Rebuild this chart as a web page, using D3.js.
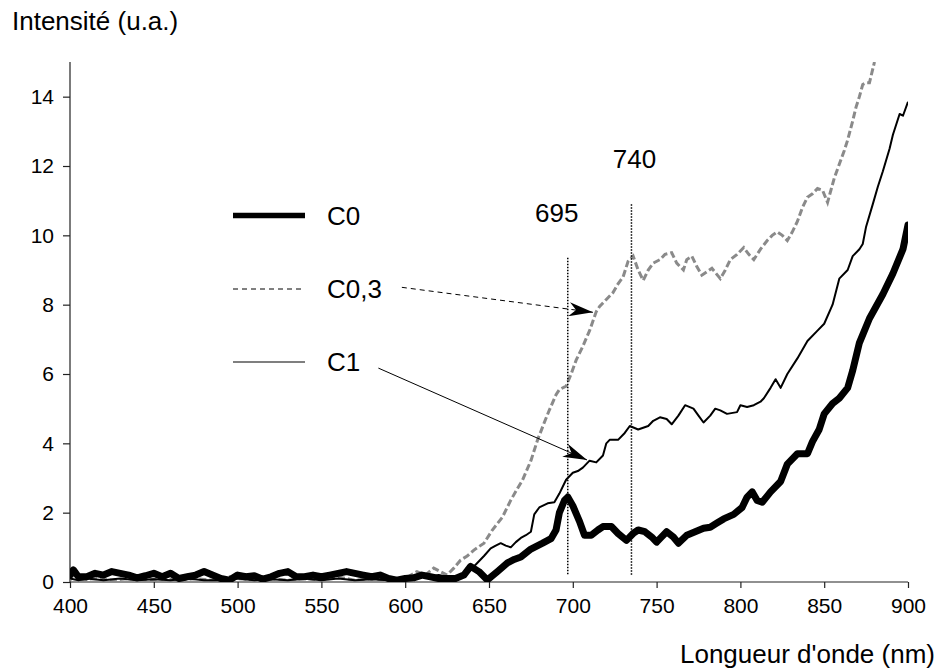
<!DOCTYPE html>
<html>
<head>
<meta charset="utf-8">
<script src="https://cdn.jsdelivr.net/npm/d3@7"></script>
<style>
  body { margin: 0; background: #fff; }
  text { font-family: "Liberation Sans", Arial, sans-serif; fill: #000; }
</style>
</head>
<body>
<div id="chart"></div>
<script>
// spectra: [wavelength nm, intensity]
const c0 = [[400,0.2],[402,0.35],[405,0.15],[410,0.15],[415,0.25],[420,0.2],[425,0.3],[430,0.25],[435,0.2],[440,0.12],[445,0.18],[450,0.25],[455,0.15],[460,0.25],[465,0.1],[470,0.15],[475,0.2],[480,0.3],[485,0.2],[490,0.1],[495,0.05],[500,0.2],[505,0.15],[510,0.18],[515,0.08],[520,0.15],[525,0.25],[530,0.3],[535,0.15],[540,0.15],[545,0.2],[550,0.15],[555,0.2],[560,0.25],[565,0.3],[570,0.25],[575,0.2],[580,0.15],[585,0.2],[590,0.1],[595,0.05],[600,0.1],[605,0.12],[610,0.2],[615,0.15],[620,0.1],[625,0.1],[630,0.1],[635,0.2],[639,0.45],[644,0.3],[649,0.06],[655,0.3],[661,0.55],[665,0.65],[669,0.72],[675,0.95],[682,1.12],[687,1.25],[690,1.5],[692,2.0],[695,2.35],[697,2.45],[700,2.2],[704,1.75],[707,1.35],[711,1.35],[715,1.5],[718,1.6],[723,1.6],[727,1.4],[732,1.2],[736,1.4],[739,1.5],[743,1.45],[747,1.3],[750,1.15],[753,1.3],[756,1.45],[760,1.3],[763,1.12],[768,1.35],[773,1.45],[778,1.55],[782,1.58],[786,1.7],[790,1.82],[796,1.95],[801,2.15],[804,2.45],[807,2.6],[810,2.35],[813,2.3],[818,2.6],[824,2.9],[828,3.4],[834,3.7],[840,3.7],[843,4.05],[847,4.4],[850,4.85],[855,5.15],[859,5.3],[864,5.6],[867,6.1],[871,6.9],[877,7.6],[885,8.3],[891,8.9],[897,9.6],[900,10.3]];

const c03 = [[400,0.05],[403,0.3],[406,0.05],[415,0.1],[425,0.05],[435,0.1],[445,0.05],[455,0.1],[465,0.05],[475,0.1],[485,0.05],[495,0.15],[500,0.1],[510,0.05],[520,0.1],[530,0.05],[540,0.1],[550,0.05],[560,0.15],[570,0.05],[580,0.1],[590,0.05],[600,0.1],[607,0.3],[612,0.2],[617,0.4],[621,0.3],[625,0.2],[629,0.4],[633,0.63],[637,0.75],[641,0.92],[647,1.12],[652,1.5],[658,1.87],[663,2.36],[667,2.7],[670,2.94],[675,3.5],[679,4.1],[683,4.6],[686,4.96],[690,5.4],[692,5.55],[696,5.65],[699,6.0],[702,6.4],[706,6.8],[710,7.25],[714,7.8],[716,7.95],[720,8.15],[724,8.35],[727,8.6],[730,8.8],[733,9.25],[736,9.4],[739,9.0],[742,8.7],[745,9.0],[748,9.2],[752,9.3],[755,9.45],[759,9.5],[762,9.2],[766,9.0],[768,9.3],[771,9.4],[774,9.1],[777,8.85],[780,8.95],[783,9.05],[788,8.75],[791,9.0],[794,9.3],[798,9.45],[802,9.65],[805,9.45],[808,9.3],[812,9.6],[816,9.85],[819,10.0],[822,10.1],[825,10.0],[828,9.85],[831,10.1],[834,10.4],[837,10.8],[840,11.1],[843,11.2],[846,11.35],[849,11.3],[852,10.95],[854,11.3],[856,11.65],[859,12.05],[862,12.45],[864,12.75],[867,13.3],[869,13.7],[871,14.0],[873,14.35],[875,14.4],[877,14.4],[880,15.0]];

const c1 = [[400,0.1],[405,0.05],[410,0.1],[420,0.05],[430,0.1],[440,0.05],[450,0.08],[460,0.05],[470,0.1],[480,0.05],[490,0.05],[500,0.1],[510,0.05],[520,0.08],[530,0.05],[540,0.1],[550,0.05],[560,0.1],[570,0.05],[580,0.08],[590,0.05],[600,0.05],[605,0.1],[610,0.2],[615,0.15],[620,0.2],[625,0.15],[630,0.1],[635,0.15],[639,0.35],[643,0.55],[647,0.75],[651,0.97],[654,1.05],[657,1.12],[660,1.05],[663,1.0],[666,1.15],[669,1.27],[672,1.35],[675,1.45],[677,1.95],[680,2.15],[685,2.27],[689,2.3],[692,2.55],[696,2.95],[700,3.15],[703,3.2],[706,3.3],[710,3.5],[714,3.45],[718,3.65],[720,4.0],[722,4.1],[727,4.1],[731,4.3],[734,4.5],[739,4.4],[745,4.5],[748,4.65],[752,4.75],[756,4.7],[759,4.55],[763,4.8],[767,5.1],[772,5.0],[775,4.8],[778,4.6],[782,4.8],[785,5.0],[788,4.95],[792,4.85],[798,4.9],[800,5.1],[804,5.05],[808,5.1],[812,5.2],[814,5.3],[818,5.6],[821,5.85],[824,5.6],[828,6.0],[834,6.45],[840,6.95],[846,7.25],[850,7.45],[855,8.0],[859,8.75],[864,9.0],[867,9.4],[871,9.6],[873,9.75],[875,10.25],[879,10.9],[882,11.4],[885,11.85],[889,12.5],[891,12.9],[895,13.5],[897,13.45],[900,13.85]];

const xTicks = [400, 450, 500, 550, 600, 650, 700, 750, 800, 850, 900];
const yTicks = [0, 2, 4, 6, 8, 10, 12, 14];

// vertical markers: label text, wavelength where the dotted line stands, top value
const markers = [
  { label: "695", nm: 697, top: 9.35, dx: -11 },
  { label: "740", nm: 735, top: 10.9, dx: 3 }
];

const width = 940, height = 669;
const margin = { top: 62, right: 32, bottom: 87, left: 70 };

const svg = d3.select("#chart").append("svg")
    .attr("width", width)
    .attr("height", height);

const x = d3.scaleLinear().domain([400, 900]).range([margin.left, width - margin.right]);
const y = d3.scaleLinear().domain([0, 15]).range([height - margin.bottom, margin.top]);

svg.append("defs").append("clipPath").attr("id", "plot")
  .append("rect")
    .attr("x", margin.left).attr("y", margin.top)
    .attr("width", x(900) - x(400)).attr("height", y(0) - y(15));

// arrow head, stealth shape
svg.select("defs").append("marker")
    .attr("id", "head")
    .attr("viewBox", "0 0 24 14")
    .attr("refX", 24).attr("refY", 7)
    .attr("markerWidth", 24).attr("markerHeight", 14)
    .attr("markerUnits", "userSpaceOnUse")
    .attr("orient", "auto")
  .append("path")
    .attr("d", "M0,0 L24,7 L0,14 L7,7 Z")
    .attr("fill", "#000");

// axes
const xAxis = svg.append("g")
    .attr("transform", `translate(0,${y(0)})`)
    .call(d3.axisBottom(x).tickValues(xTicks).tickSize(6).tickPadding(10).tickFormat(d3.format("d")));
const yAxis = svg.append("g")
    .attr("transform", `translate(${margin.left},0)`)
    .call(d3.axisLeft(y).tickValues(yTicks).tickSize(7).tickPadding(9).tickFormat(d3.format("d")));
[xAxis, yAxis].forEach(a => {
  a.select(".domain").attr("stroke", "#222").attr("stroke-width", 1.2);
  a.selectAll(".tick line").attr("stroke", "#222").attr("stroke-width", 1.2);
  a.selectAll(".tick text").attr("font-size", 21).attr("font-family", "Liberation Sans, Arial, sans-serif").attr("fill", "#000");
});
yAxis.select(".domain").attr("d", `M0,${y(0)}V${y(15)}`);
xAxis.select(".domain").attr("d", `M${x(400)},0H${x(900)}`);

// curves
const line = d3.line().x(d => x(d[0])).y(d => y(d[1]));
const curves = svg.append("g").attr("clip-path", "url(#plot)");

curves.append("path").datum(c03)
    .attr("d", line)
    .attr("fill", "none")
    .attr("stroke", "#8a8a8a")
    .attr("stroke-width", 3)
    .attr("stroke-dasharray", "7,3");

curves.append("path").datum(c1)
    .attr("d", line)
    .attr("fill", "none")
    .attr("stroke", "#000")
    .attr("stroke-width", 2)
    .attr("stroke-linejoin", "round");

curves.append("path").datum(c0)
    .attr("d", line)
    .attr("fill", "none")
    .attr("stroke", "#000")
    .attr("stroke-width", 7)
    .attr("stroke-linejoin", "round")
    .attr("stroke-linecap", "round");

// dotted markers
markers.forEach(m => {
  svg.append("line")
      .attr("x1", x(m.nm)).attr("x2", x(m.nm))
      .attr("y1", y(m.top)).attr("y2", y(0.2))
      .attr("stroke", "#000")
      .attr("stroke-width", 1.5)
      .attr("stroke-dasharray", "1.5,1.5");
  svg.append("text")
      .attr("x", x(m.nm) + m.dx)
      .attr("y", y(m.top) - 36)
      .attr("text-anchor", "middle")
      .attr("font-size", 26)
      .text(m.label);
});

// legend
const legend = [
  { name: "C0", w: 5.5, dash: null, y: 215.5 },
  { name: "C0,3", w: 1, dash: "5,4", y: 289 },
  { name: "C1", w: 1.2, dash: null, y: 362 }
];
legend.forEach(l => {
  svg.append("line")
      .attr("x1", 233).attr("x2", 305)
      .attr("y1", l.y).attr("y2", l.y)
      .attr("stroke", "#000")
      .attr("stroke-width", l.w)
      .attr("stroke-dasharray", l.dash);
  svg.append("text")
      .attr("x", 327).attr("y", l.y + 9)
      .attr("font-size", 26)
      .text(l.name);
});

// arrows from legend labels to curves (data coordinates)
const arrows = [
  { from: [598, 8.5], to: [712, 7.78], dash: "5,4" },
  { from: [584, 6.17], to: [708.5, 3.52], dash: null }
];
arrows.forEach(a => {
  svg.append("line")
      .attr("x1", x(a.from[0])).attr("y1", y(a.from[1]))
      .attr("x2", x(a.to[0])).attr("y2", y(a.to[1]))
      .attr("stroke", "#000")
      .attr("stroke-width", 1)
      .attr("stroke-dasharray", a.dash)
      .attr("marker-end", "url(#head)");
});

// axis titles
svg.append("text")
    .attr("x", 12).attr("y", 30)
    .attr("font-size", 26)
    .text("Intensité (u.a.)");
svg.append("text")
    .attr("x", 935).attr("y", 663)
    .attr("text-anchor", "end")
    .attr("font-size", 26)
    .text("Longueur d'onde (nm)");
</script>
</body>
</html>
